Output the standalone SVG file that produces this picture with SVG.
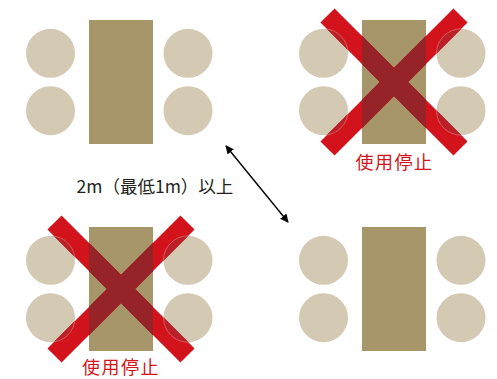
<svg xmlns="http://www.w3.org/2000/svg" xmlns:xlink="http://www.w3.org/1999/xlink" width="497" height="379" viewBox="0 0 497 379">
<style>
.table{fill:#a8966b}
.chair{fill:#d4c9b3}
.xr{stroke:#d3131c;stroke-width:20;fill:none}
.xt{stroke:#952328;stroke-width:20;fill:none}
.xc{stroke:#bb2029;stroke-width:20;fill:none}
.ring{fill:none;stroke:#e4a0a0;stroke-width:0.7;stroke-opacity:0.7}
.lbl{font-family:"Noto Sans CJK JP","Noto Sans",sans-serif;font-size:18px;letter-spacing:1.5px;fill:#d2141c;text-anchor:middle}
.mid{font-family:"Noto Sans CJK JP","Noto Sans",sans-serif;font-size:17.5px;fill:#231f20}
.conn{stroke:#000;stroke-width:1.4;fill:none}
</style>
<defs>
<g id="set">
<rect class="table" x="-32" y="-62" width="64" height="124"/>
<circle class="chair" cx="-70.5" cy="-28.7" r="24.5"/>
<circle class="chair" cx="-70.5" cy="28.7" r="24.5"/>
<circle class="chair" cx="67" cy="-28.7" r="24.5"/>
<circle class="chair" cx="67" cy="28.7" r="24.5"/>
</g>
<g id="X">
<line x1="-66.5" y1="-66.5" x2="66.5" y2="66.5"/>
<line x1="66.5" y1="-66.5" x2="-66.5" y2="66.5"/>
</g>
<clipPath id="tableClip"><rect x="-32" y="-62" width="64" height="124"/></clipPath>
<clipPath id="chairClip">
<circle cx="-70.5" cy="-28.7" r="24.5"/>
<circle cx="-70.5" cy="28.7" r="24.5"/>
<circle cx="67" cy="-28.7" r="24.5"/>
<circle cx="67" cy="28.7" r="24.5"/>
</clipPath>
<clipPath id="xClip">
<polygon points="-59.4,-73.6 73.6,59.4 59.4,73.6 -73.6,-59.4"/>
<polygon points="59.4,-73.6 73.6,-59.4 -59.4,73.6 -73.6,59.4"/>
</clipPath>
<g id="rings" class="ring" clip-path="url(#xClip)">
<circle cx="-70.5" cy="-28.7" r="24.5"/>
<circle cx="-70.5" cy="28.7" r="24.5"/>
<circle cx="67" cy="-28.7" r="24.5"/>
<circle cx="67" cy="28.7" r="24.5"/>
</g>
<marker id="ah" viewBox="0 0 10 10" refX="9" refY="5" markerWidth="6" markerHeight="6" orient="auto-start-reverse" markerUnits="strokeWidth">
<path d="M0,0 L10,5 L0,10 Z" fill="#000"/>
</marker>
</defs>

<g id="node-top-left" transform="translate(121,82)">
<use xlink:href="#set"/>
</g>

<g id="node-top-right" transform="translate(394,82)">
<use xlink:href="#set"/>
<use xlink:href="#X" class="xr"/>
<g clip-path="url(#tableClip)"><use xlink:href="#X" class="xt"/></g>
<g clip-path="url(#chairClip)"><use xlink:href="#X" class="xc"/></g>
<use xlink:href="#rings"/>
<text class="lbl" x="0.5" y="87">使用停止</text>
</g>

<g id="node-bottom-left" transform="translate(121,289)">
<use xlink:href="#set"/>
<use xlink:href="#X" class="xr"/>
<g clip-path="url(#tableClip)"><use xlink:href="#X" class="xt"/></g>
<g clip-path="url(#chairClip)"><use xlink:href="#X" class="xc"/></g>
<use xlink:href="#rings"/>
<text class="lbl" x="0" y="84.5">使用停止</text>
</g>

<g id="node-bottom-right" transform="translate(394,289)">
<use xlink:href="#set"/>
</g>

<g id="connectors">
<line class="conn" x1="226" y1="146" x2="288" y2="222" marker-start="url(#ah)" marker-end="url(#ah)"/>
</g>

<g id="distance-label">
<text class="mid" x="76.5" y="193">2m（最低1m）以上</text>
</g>
</svg>
